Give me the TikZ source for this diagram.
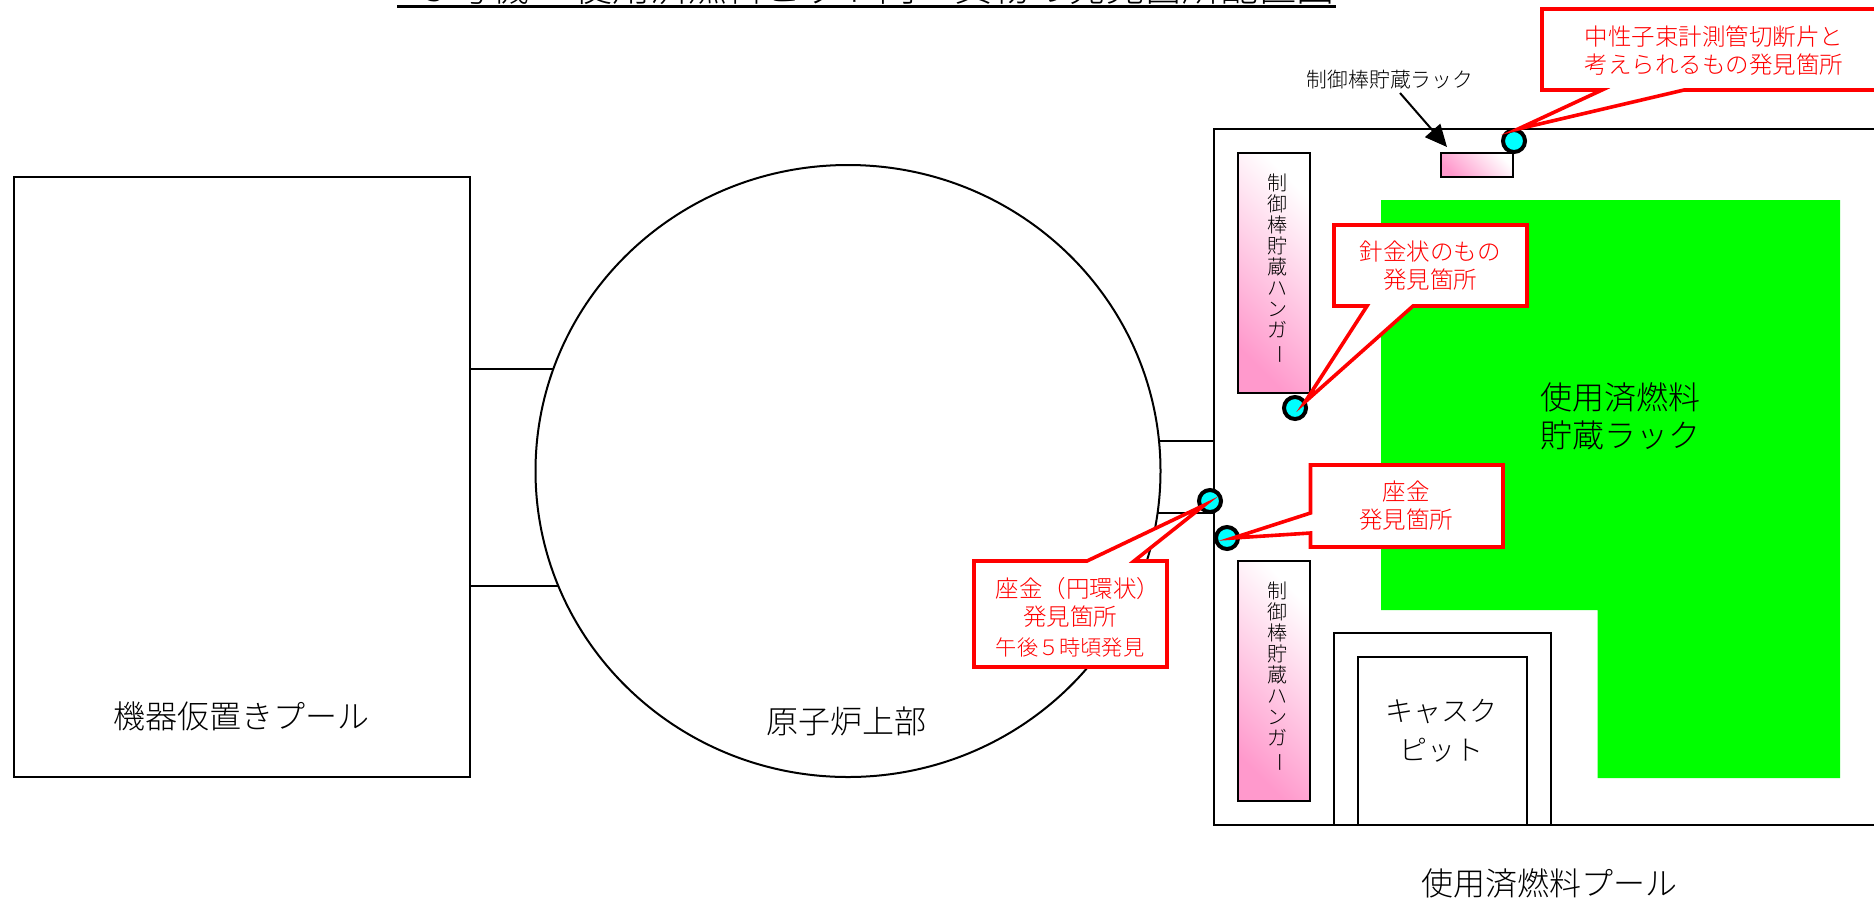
\documentclass[tikz,border=0pt]{standalone}
\usepackage{fontspec}
\setmainfont{Noto Sans CJK JP Light}
\usetikzlibrary{shapes.geometric,arrows.meta,shadings}
\definecolor{rackgreen}{RGB}{0,255,0}
\definecolor{calloutred}{RGB}{255,0,0}
\definecolor{hangerpink}{RGB}{255,153,204}
\definecolor{markcyan}{RGB}{0,255,255}
\tikzset{
  pxbox/.style 2 args={rectangle,inner sep=0pt,outer sep=0pt,minimum width=#1*0.5pt,minimum height=#2*0.5pt},
  outline/.style={draw=black,line width=1pt},
  hanger/.style={outline,shade,shading=axis,left color=hangerpink,right color=white,shading angle=135},
  marker/.style={circle,draw=black,fill=markcyan,line width=2pt,inner sep=0pt,minimum size=11pt},
  callline/.style={draw=calloutred,fill=white,line width=1.8pt,line join=miter,miter limit=10},
  redtext/.style={text=calloutred,align=center,font=\fontsize{11.75pt}{14pt}\selectfont,inner sep=0pt},
  bigtext/.style={align=center,font=\fontsize{16pt}{19pt}\selectfont,inner sep=0pt},
  midtext/.style={align=center,font=\fontsize{14pt}{19.5pt}\selectfont,inner sep=0pt},
  smalltext/.style={align=center,font=\fontsize{10.4pt}{12pt}\selectfont,inner sep=0pt},
  verttext/.style={align=center,font=\fontsize{10pt}{10.5pt}\selectfont,inner sep=0pt},
  titletext/.style={font=\fontsize{19pt}{19pt}\selectfont,inner sep=0pt}
}
\newcommand{\hangerlabel}{制\\御\\棒\\貯\\蔵\\ハ\\ン\\ガ\\\rotatebox[origin=c]{-90}{ー}}
\begin{document}
\begin{tikzpicture}[x=0.5pt,y=-0.5pt]
\useasboundingbox (0,0) rectangle (1874,901);
\clip (0,0) rectangle (1874,901);
\fill[white] (0,0) rectangle (1874,901);
% title, cut by the top of the page
\node[titletext,anchor=base east] (titleA) at (530,1) {３号機};
\node[titletext,anchor=base west] (titleB) at (574,1) {使用済燃料ピット内　異物の発見箇所配置図};
\coordinate (ulA) at (397,6.3);
\coordinate (ulB) at (1336,6.3);
\draw[line width=1.5pt] (ulA) -- (ulB);
% green rack
\fill[rackgreen] (1381,200) -- (1840,200) -- (1840,778) -- (1597.5,778) -- (1597.5,610) -- (1381,610) -- cycle;
% pools
\node[pxbox={456}{600},outline] (pool) at (242,477) {};
\node[ellipse,inner sep=0pt,outer sep=0pt,minimum width=312.5pt,minimum height=306pt,outline] (rpv) at (848,471) {};
\node[pxbox={686}{696},outline] (sfp) at (1557,477) {};
\node[pxbox={217}{192},outline] (caskout) at (1442.5,729) {};
\node[pxbox={168.6}{168},outline] (caskin) at (1442.3,741) {};
% canals
\coordinate (rpvA) at (553.4,369);
\coordinate (rpvB) at (558.4,586);
\coordinate (rpvC) at (1159,441);
\coordinate (rpvD) at (1157.5,513);
\draw[line width=1pt] (pool.east |- rpvA) -- (rpvA);
\draw[line width=1pt] (pool.east |- rpvB) -- (rpvB);
\draw[line width=1pt] (rpvC) -- (sfp.west |- rpvC);
\draw[line width=1pt] (rpvD) -- (sfp.west |- rpvD);
% hangers and rack
\node[pxbox={72}{240},hanger] (hangerA) at (1274,273) {};
\node[pxbox={72}{240},hanger] (hangerB) at (1274,681) {};
\node[pxbox={72}{24},hanger] (cr) at (1477,165) {};
\node[verttext] (hangerAt) at (1277,269) {\hangerlabel};
\node[verttext] (hangerBt) at (1277,677) {\hangerlabel};
% labels
\node[bigtext] (lblpool) at (241,716) {機器仮置きプール};
\node[bigtext] (lblrpv) at (846,721) {原子炉上部};
\node[bigtext] (lblrack) at (1620,416) {使用済燃料\\貯蔵ラック};
\node[midtext] (lblcask) at (1441,731) {キャスク\\ピット};
\node[bigtext] (lblsfp) at (1549,883) {使用済燃料プール};
\node[smalltext] (lblcr) at (1390,80) {制御棒貯蔵ラック};
\coordinate (crArrowS) at (1400,93);
\coordinate (crArrowE) at (1447,147);
\draw[line width=1pt,-{Triangle[length=11pt,width=10pt]}] (crArrowS) -- (crArrowE);
% markers
\node[marker] (mA) at (1514,141) {};
\node[marker] (mB) at (1295,408) {};
\node[marker] (mC) at (1210,501) {};
\node[marker] (mD) at (1227,538) {};
% callout 1
\node[pxbox={360}{81}] (boxA) at (1722,49.5) {};
\coordinate (tipA) at (1518,129);
\draw[callline] (boxA.north west) -- (boxA.north east) -- (boxA.south east) -- (1684,90) -- (tipA) -- (1602,90) -- (boxA.south west) -- cycle;
\node[redtext] (textA) at (1714,51) {中性子束計測管切断片と\\考えられるもの発見箇所};
% callout 2
\node[pxbox={193}{81}] (boxB) at (1430.5,265.5) {};
\coordinate (tipB) at (1305,402);
\draw[callline] (boxB.north west) -- (boxB.north east) -- (boxB.south east) -- (1413,306) -- (tipB) -- (1367,306) -- (boxB.south west) -- cycle;
\node[redtext] (textB) at (1430,266) {針金状のもの\\発見箇所};
% callout 3
\node[pxbox={192.5}{82}] (boxC) at (1406.75,506) {};
\coordinate (tipC) at (1233,538);
\draw[callline] (boxC.north west) -- (boxC.north east) -- (boxC.south east) -- (boxC.south west) -- (1310.5,533) -- (tipC) -- (1310.5,513) -- cycle;
\node[redtext] (textC) at (1406,506) {座金\\発見箇所};
% callout 4
\node[pxbox={193}{106}] (boxD) at (1070.5,614) {};
\coordinate (tipD) at (1204.5,505);
\draw[callline] (boxD.north west) -- (1087,561) -- (tipD) -- (1134,561) -- (boxD.north east) -- (boxD.south east) -- (boxD.south west) -- cycle;
\node[redtext] (textD) at (1070,602.5) {\hspace*{8pt}座金（円環状）\\発見箇所};
\node[redtext,font=\fontsize{10.6pt}{12pt}\selectfont] (textE) at (1070,647) {午後５時頃発見};
\end{tikzpicture}
\end{document}
